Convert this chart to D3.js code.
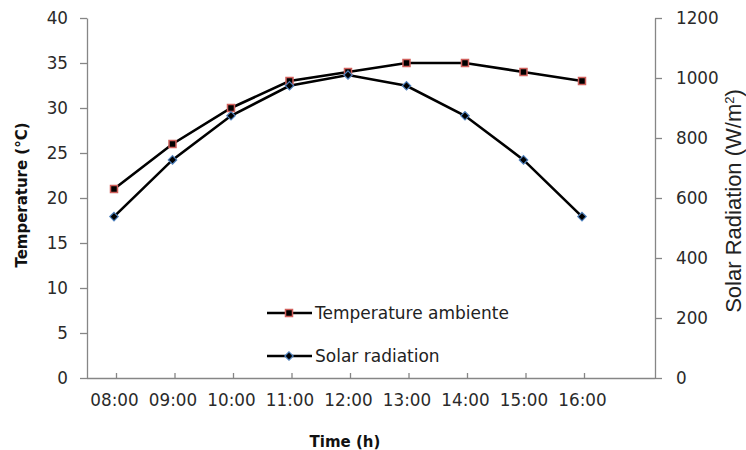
<!DOCTYPE html>
<html>
<head>
<meta charset="utf-8">
<script src="https://cdn.jsdelivr.net/npm/d3@7"></script>
<style>
  html, body { margin: 0; padding: 0; background: #fff; }
  svg { display: block; }
</style>
</head>
<body>
<script>
const hours = ["08:00","09:00","10:00","11:00","12:00","13:00","14:00","15:00","16:00"];
const temperature = [21, 26, 30, 33, 34, 35, 35, 34, 33];
const solar = [538, 727, 874, 974, 1010, 974, 874, 727, 538];
const tempTicks = [0,5,10,15,20,25,30,35,40];
const solarTicks = [0,200,400,600,800,1000,1200];
const seriesNames = ["Temperature ambiente", "Solar radiation"];

const W = 746, H = 450;
const plot = {left: 87, right: 655, top: 18, bottom: 378};

const svg = d3.select("body").append("svg").attr("width", W).attr("height", H);

const x = d3.scalePoint().domain(hours).range([114, 582]);
const yT = d3.scaleLinear().domain([0, 40]).range([plot.bottom, plot.top]);
const yS = d3.scaleLinear().domain([0, 1200]).range([plot.bottom, plot.top]);

const axisColor = "#868686";
const textColor = "#2a2a2a";
const tickFont = "DejaVu Sans, Verdana, sans-serif";

// Left axis
const gL = svg.append("g").attr("transform", `translate(${plot.left},0)`)
  .call(d3.axisLeft(yT).tickValues(tempTicks).tickFormat(d3.format("d")).tickSizeInner(7).tickSizeOuter(0).tickPadding(12));
// Right axis
const gR = svg.append("g").attr("transform", `translate(${plot.right},0)`)
  .call(d3.axisRight(yS).tickValues(solarTicks).tickFormat(d3.format("d")).tickSizeInner(7).tickSizeOuter(0).tickPadding(14));
// Bottom axis
const gB = svg.append("g").attr("transform", `translate(0,${plot.bottom})`)
  .call(d3.axisBottom(x).tickSizeInner(-5).tickSizeOuter(0).tickPadding(16));
gB.select(".domain").remove();
svg.append("line")
  .attr("x1", plot.left).attr("x2", plot.right)
  .attr("y1", plot.bottom + 0.5).attr("y2", plot.bottom + 0.5)
  .attr("stroke", axisColor).attr("stroke-width", 1.3);

[gL, gR, gB].forEach(g => {
  g.selectAll(".domain").attr("stroke", axisColor).attr("stroke-width", 1.3);
  g.selectAll(".tick line").attr("stroke", axisColor).attr("stroke-width", 1.3);
  g.selectAll(".tick text").attr("fill", textColor)
    .style("font-family", tickFont).style("font-size", "16.8px");
});
gB.selectAll(".tick line").attr("transform", "translate(2,0)");

// Axis titles
svg.append("text")
  .attr("transform", `translate(27,195) rotate(-90)`)
  .attr("text-anchor", "middle")
  .style("font-family", tickFont).style("font-weight", "bold").style("font-size", "15px")
  .attr("fill", "#111")
  .attr("textLength", 145).attr("lengthAdjust", "spacingAndGlyphs")
  .text("Temperature (°C)");

const st = svg.append("text")
  .attr("transform", `translate(741,201) rotate(-90)`)
  .attr("text-anchor", "middle")
  .style("font-family", "Liberation Sans, Arial, sans-serif").style("font-size", "22px")
  .attr("fill", "#222");
st.append("tspan").text("Solar Radiation (W/m");
st.append("tspan").attr("baseline-shift", "super").style("font-size", "13px").text("2");
st.append("tspan").text(")");

svg.append("text")
  .attr("x", 345).attr("y", 447)
  .attr("text-anchor", "middle")
  .style("font-family", tickFont).style("font-weight", "bold").style("font-size", "15px")
  .attr("fill", "#111")
  .text("Time (h)");

// Lines
const lineT = d3.line().x((d, i) => x(hours[i])).y(d => yT(d));
const lineS = d3.line().x((d, i) => x(hours[i])).y(d => yS(d));

svg.append("path").datum(solar).attr("d", lineS)
  .attr("fill", "none").attr("stroke", "#000").attr("stroke-width", 2.6);
svg.append("path").datum(temperature).attr("d", lineT)
  .attr("fill", "none").attr("stroke", "#000").attr("stroke-width", 2.6);

const sq = 7, dm = 4.2;
function square(sel, cx, cy) {
  sel.append("rect").attr("x", cx - sq/2).attr("y", cy - sq/2)
    .attr("width", sq).attr("height", sq)
    .attr("fill", "#000").attr("stroke", "#d0605c").attr("stroke-width", 1.5);
}
function diamond(sel, cx, cy) {
  sel.append("path")
    .attr("d", `M${cx},${cy-dm}L${cx+dm},${cy}L${cx},${cy+dm}L${cx-dm},${cy}Z`)
    .attr("fill", "#000").attr("stroke", "#4f81bd").attr("stroke-width", 1.2);
}
const gm = svg.append("g");
temperature.forEach((v, i) => square(gm, x(hours[i]), yT(v)));
solar.forEach((v, i) => diamond(gm, x(hours[i]), yS(v)));

// Legend
const lg = svg.append("g");
const legY = [313, 356];
seriesNames.forEach((name, i) => {
  lg.append("line").attr("x1", 267).attr("x2", 312).attr("y1", legY[i]).attr("y2", legY[i])
    .attr("stroke", "#000").attr("stroke-width", 2.6);
  if (i === 0) square(lg, 289, legY[i]); else diamond(lg, 289, legY[i]);
  lg.append("text").attr("x", 315).attr("y", legY[i])
    .attr("dy", "0.36em")
    .style("font-family", tickFont).style("font-size", "17px")
    .attr("fill", "#222")
    .text(name);
});
</script>
</body>
</html>
